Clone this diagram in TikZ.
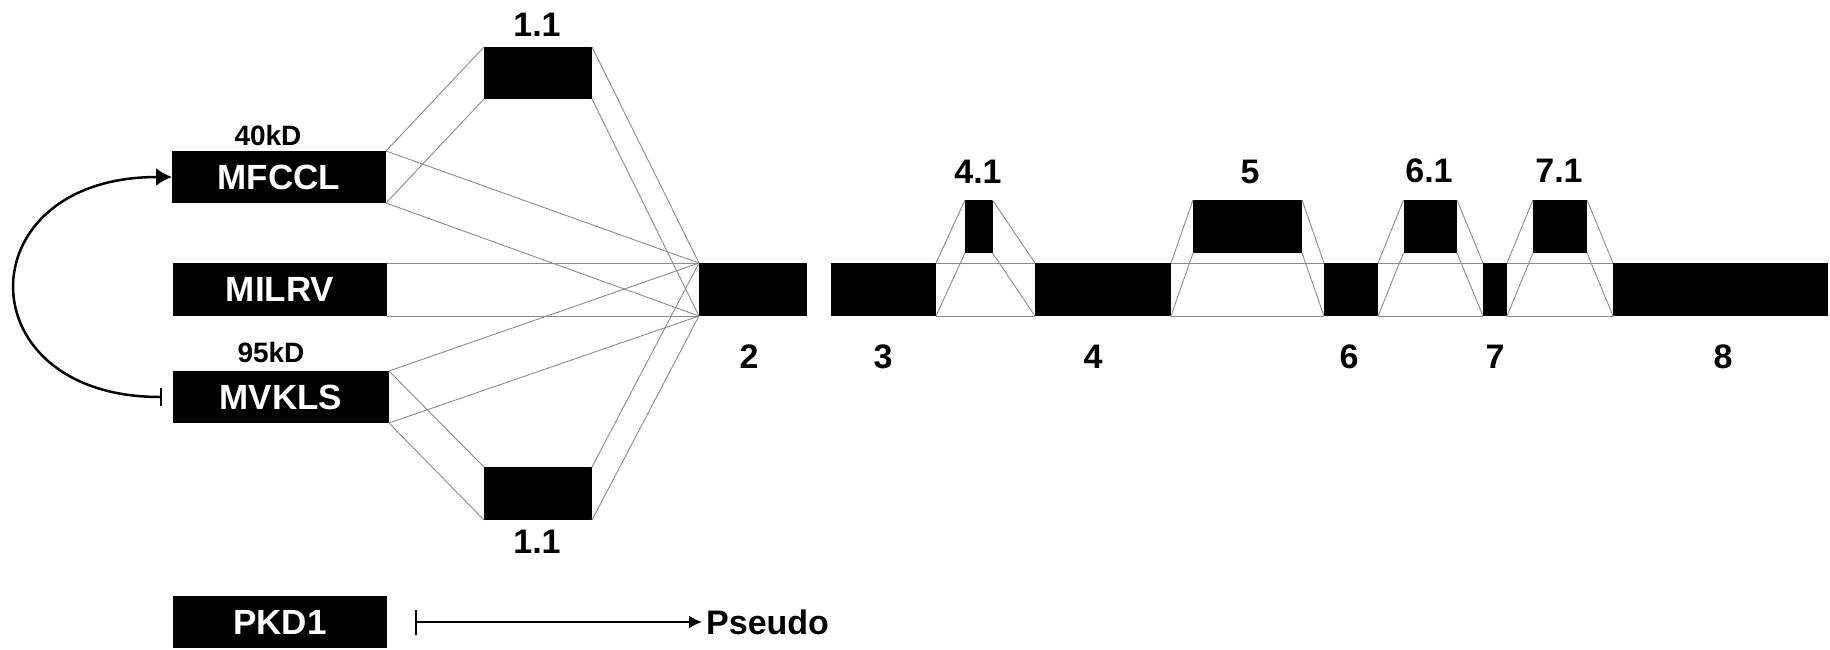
\documentclass[tikz,border=0pt]{standalone}
\usepackage{fontspec}
\setmainfont{Liberation Sans}
\usetikzlibrary{arrows.meta}
\definecolor{ln}{RGB}{140,140,140}
\begin{document}
\begin{tikzpicture}[x=1pt,y=-1pt,
  blk/.style={fill=black,inner sep=0pt,outer sep=0pt,text=white,font=\fontsize{35}{40}\selectfont\bfseries},
  gl/.style={draw=ln,line width=0.9pt},
  lbl/.style={inner sep=0pt,font=\fontsize{34}{40}\selectfont\bfseries},
  kd/.style={inner sep=0pt,font=\fontsize{28}{32}\selectfont\bfseries},
  bx/.style n args={2}{minimum width=#1,minimum height=#2}]
\useasboundingbox (0,0) rectangle (1830,649);
% left transcripts
\node[blk,bx={214pt}{52pt}] (mfccl) at (279,177) {MFCCL};
\node[blk,bx={214pt}{53pt}] (milrv) at (280,289.5) {MILRV};
\node[blk,bx={216pt}{52pt}] (mvkls) at (281,397) {MVKLS};
\node[blk,bx={214pt}{52pt}] (pkd1) at (280,622) {PKD1};
\node[blk,bx={108pt}{52pt}] (t11) at (538,73) {};
\node[blk,bx={108pt}{53pt}] (b11) at (538,493.5) {};
% exons
\node[blk,bx={108pt}{53pt}] (e2) at (753,289.5) {};
\node[blk,bx={105pt}{53pt}] (e3) at (883.5,289.5) {};
\node[blk,bx={136pt}{53pt}] (e4) at (1103,289.5) {};
\node[blk,bx={54pt}{53pt}] (e6) at (1351,289.5) {};
\node[blk,bx={24pt}{53pt}] (e7) at (1495,289.5) {};
\node[blk,bx={215pt}{53pt}] (e8) at (1720.5,289.5) {};
% alternative exons
\node[blk,bx={27.5pt}{53pt}] (a41) at (978.75,226.5) {};
\node[blk,bx={109pt}{53pt}] (a5) at (1247.5,226.5) {};
\node[blk,bx={53.5pt}{53pt}] (a61) at (1430.25,226.5) {};
\node[blk,bx={54pt}{53pt}] (a71) at (1560,226.5) {};
% fan to exon 2
\foreach \s in {mfccl,milrv,mvkls,t11,b11}{
  \draw[gl] (\s.north east) -- (e2.north west);
  \draw[gl] (\s.south east) -- (e2.south west);
}
\draw[gl] (mfccl.north east) -- (t11.north west);
\draw[gl] (mfccl.south east) -- (t11.south west);
\draw[gl] (mvkls.north east) -- (b11.north west);
\draw[gl] (mvkls.south east) -- (b11.south west);
% track lines
\foreach \a/\b in {e3/e4,e4/e6,e6/e7,e7/e8}{
  \draw[gl] (\a.north east) -- (\b.north west);
  \draw[gl] (\a.south east) -- (\b.south west);
}
% trapezoids
\foreach \a/\m/\b in {e3/a41/e4,e4/a5/e6,e6/a61/e7,e7/a71/e8}{
  \draw[gl] (\a.north east) -- (\m.north west);
  \draw[gl] (\a.south east) -- (\m.south west);
  \draw[gl] (\m.north east) -- (\b.north west);
  \draw[gl] (\m.south east) -- (\b.south west);
}
% labels
\node[lbl] (l11t) at (537,25) {1.1};
\node[lbl] (l11b) at (537,542) {1.1};
\node[kd] (k40) at (268,135) {40kD};
\node[kd] (k95) at (271,352) {95kD};
\node[lbl] (l41) at (978,172) {4.1};
\node[lbl] (l5) at (1250,172) {5};
\node[lbl] (l61) at (1429,171) {6.1};
\node[lbl] (l71) at (1559,171) {7.1};
\node[lbl] (l2) at (749,357) {2};
\node[lbl] (l3) at (883,357) {3};
\node[lbl] (l4) at (1093,357) {4};
\node[lbl] (l6) at (1349,357) {6};
\node[lbl] (l7) at (1495,357) {7};
\node[lbl] (l8) at (1723,357) {8};
\node[lbl,anchor=west] (pseudo) at (706,622) {Pseudo};
% arrows
\draw[line width=2.5pt,{Bar[width=18pt]}-{Latex[length=16pt,width=18pt]},shorten <=11pt]
  (mvkls.west) .. controls +(-209,0) and +(-207,0) .. (mfccl.west);
\draw[line width=2pt,{Bar[width=25pt]}-{Latex[length=13pt,width=13pt]},shorten <=28pt,shorten >=4pt]
  (pkd1.east) -- (pseudo.west);
\end{tikzpicture}
\end{document}
